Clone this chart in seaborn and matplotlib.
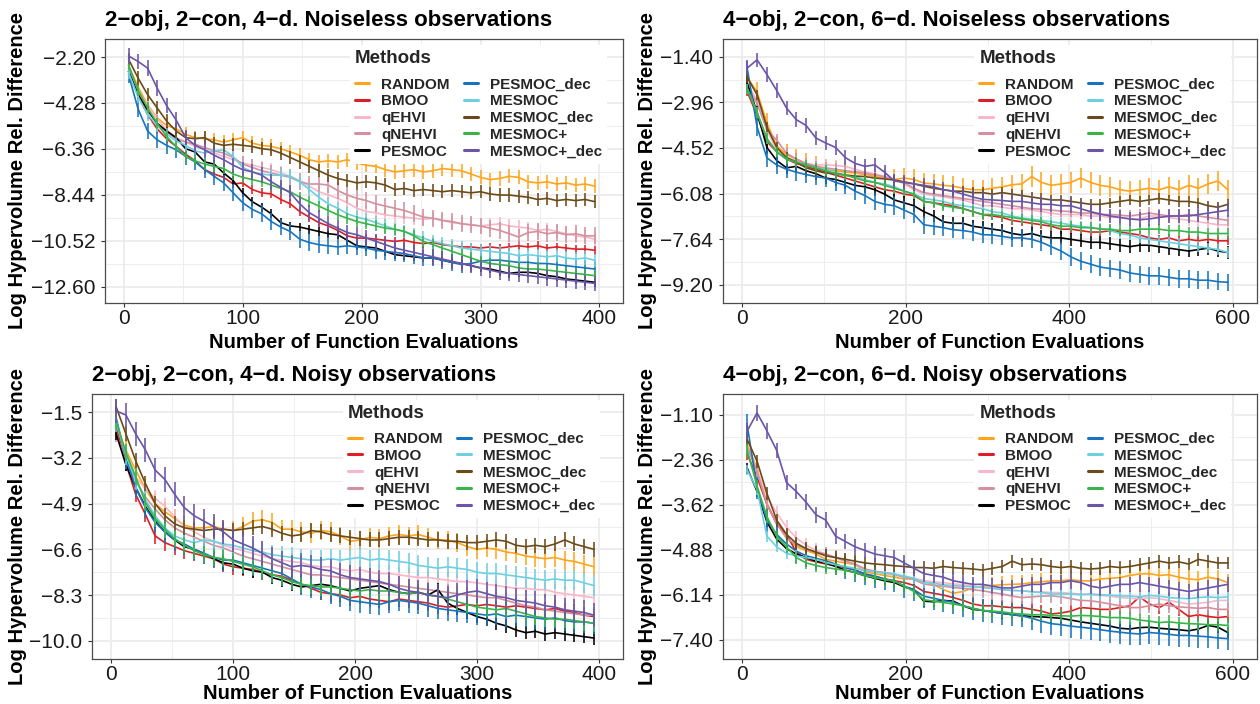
import numpy as np
import pandas as pd
import matplotlib
matplotlib.use("Agg")
import matplotlib.pyplot as plt
import seaborn as sns
from matplotlib.lines import Line2D
from matplotlib.ticker import FixedLocator, FuncFormatter

sns.set_theme(style="white")
plt.rcParams['font.family'] = ['Liberation Sans', 'DejaVu Sans']
plt.rcParams['axes.unicode_minus'] = True

METHODS = ["RANDOM", "BMOO", "qEHVI", "qNEHVI", "PESMOC",
           "PESMOC_dec", "MESMOC", "MESMOC_dec", "MESMOC+", "MESMOC+_dec"]
COLORS = ["#FFA51C", "#DC1F26", "#F8B7C8", "#D3909E", "#000000",
          "#1874BE", "#6ECFE0", "#6B4A18", "#3AB44A", "#6A55A6"]

# evaluation grids (4-d problems: every 8 evals from 4; 6-d problems: every 12 evals from 6)
x_4d = np.arange(4, 400, 8)
x_6d = np.arange(6, 600, 12)

# ---------------- 2-obj, 2-con, 4-d, noiseless ----------------
a_random = [-2.60, -3.55, -4.36, -4.95, -5.30, -5.45, -5.70, -5.85, -5.90, -5.95,
            -6.05, -5.95, -5.85, -6.10, -6.20, -6.25, -6.35, -6.50, -6.65, -6.85,
            -6.95, -6.90, -6.95, -6.85, -7.00, -7.10, -7.15, -7.30, -7.40, -7.35,
            -7.30, -7.40, -7.35, -7.25, -7.30, -7.35, -7.50, -7.65, -7.75, -7.70,
            -7.60, -7.65, -7.85, -7.90, -7.85, -7.95, -7.90, -8.00, -7.95, -8.05]
a_bmoo = [-2.85, -3.95, -4.80, -5.45, -5.90, -6.25, -6.60, -6.90, -7.30, -7.50,
          -7.65, -7.95, -7.90, -8.20, -8.35, -8.40, -8.65, -8.85, -9.20, -9.45,
          -9.70, -9.85, -10.05, -10.30, -10.40, -10.40, -10.45, -10.50, -10.55, -10.50,
          -10.60, -10.65, -10.60, -10.70, -10.75, -10.80, -10.80, -10.85, -10.80, -10.85,
          -10.80, -10.75, -10.80, -10.75, -10.85, -10.80, -10.85, -10.90, -10.90, -10.95]
a_qehvi = [-2.70, -3.70, -4.40, -5.00, -5.50, -5.85, -6.05, -6.25, -6.40, -6.55,
           -6.70, -6.85, -7.00, -7.10, -7.20, -7.30, -7.45, -7.60, -7.80, -8.05,
           -8.30, -8.45, -8.60, -8.80, -9.05, -9.20, -9.25, -9.35, -9.40, -9.45,
           -9.50, -9.55, -9.50, -9.60, -9.70, -9.75, -9.80, -9.85, -9.80, -9.75,
           -9.85, -9.90, -9.95, -10.05, -10.00, -10.10, -10.20, -10.30, -10.35, -10.45]
a_qnehvi = [-2.75, -3.80, -4.60, -5.20, -5.60, -5.90, -6.05, -6.15, -6.30, -6.45,
            -6.55, -6.75, -7.05, -7.20, -7.35, -7.45, -7.55, -7.65, -7.85, -7.95,
            -7.95, -8.00, -8.25, -8.45, -8.60, -8.70, -8.85, -8.95, -9.05, -9.15,
            -9.30, -9.45, -9.50, -9.60, -9.65, -9.75, -9.80, -9.85, -9.95, -10.05,
            -10.20, -10.35, -10.15, -10.10, -10.20, -10.15, -10.25, -10.20, -10.30, -10.30]
a_pesmoc = [-2.85, -3.90, -4.60, -5.20, -5.55, -5.85, -6.35, -6.50, -6.95, -7.05,
            -7.45, -7.80, -8.35, -8.75, -9.00, -9.30, -9.70, -9.85, -9.90, -10.00,
            -10.10, -10.20, -10.25, -10.50, -10.75, -10.80, -10.85, -11.00, -11.15, -11.20,
            -11.25, -11.30, -11.30, -11.40, -11.50, -11.55, -11.65, -11.75, -11.80, -11.90,
            -12.00, -11.95, -11.95, -12.00, -12.10, -12.15, -12.25, -12.30, -12.35, -12.40]
a_pesmoc_dec = [-3.00, -4.55, -5.55, -5.95, -6.20, -6.40, -6.70, -6.95, -7.30, -7.60,
                -7.90, -8.35, -8.80, -9.10, -9.30, -9.65, -9.90, -10.10, -10.45, -10.60,
                -10.70, -10.75, -10.80, -10.75, -10.80, -10.85, -10.95, -11.00, -11.05, -11.10,
                -11.20, -11.30, -11.30, -11.40, -11.50, -11.60, -11.55, -11.45, -11.40, -11.40,
                -11.45, -11.50, -11.50, -11.55, -11.55, -11.60, -11.65, -11.70, -11.75, -11.80]
a_mesmoc = [-2.90, -4.00, -4.80, -5.30, -5.70, -6.00, -6.20, -6.45, -6.55, -6.45,
            -6.40, -6.70, -7.20, -7.40, -7.50, -7.55, -7.55, -7.60, -7.85, -8.20,
            -8.55, -8.85, -9.05, -9.30, -9.45, -9.55, -9.70, -9.85, -10.00, -10.10,
            -10.25, -10.40, -10.55, -10.65, -10.75, -10.85, -10.90, -10.95, -11.00, -11.05,
            -11.10, -11.20, -11.15, -11.20, -11.25, -11.20, -11.30, -11.35, -11.30, -11.40]
a_mesmoc_dec = [-2.30, -3.15, -3.90, -4.50, -5.10, -5.55, -5.85, -5.90, -5.85, -6.10,
                -6.20, -6.15, -6.20, -6.25, -6.35, -6.40, -6.55, -6.75, -6.95, -7.15,
                -7.35, -7.55, -7.70, -7.80, -7.90, -7.85, -7.90, -8.00, -8.20, -8.15,
                -8.25, -8.20, -8.25, -8.30, -8.25, -8.30, -8.35, -8.30, -8.40, -8.45,
                -8.45, -8.50, -8.55, -8.65, -8.60, -8.70, -8.65, -8.70, -8.65, -8.75]
a_mesmocp = [-2.55, -3.70, -4.50, -5.20, -5.80, -6.25, -6.70, -6.90, -7.05, -7.15,
             -7.25, -7.50, -7.65, -7.75, -7.85, -8.00, -8.15, -8.30, -8.55, -8.75,
             -8.95, -9.15, -9.35, -9.50, -9.65, -9.75, -9.85, -9.95, -10.00, -10.10,
             -10.30, -10.55, -10.70, -10.85, -11.00, -11.15, -11.30, -11.45, -11.55, -11.60,
             -11.65, -11.75, -11.80, -11.80, -11.85, -11.90, -11.95, -12.00, -12.05, -12.10]
a_mesmocp_dec = [-2.15, -2.40, -2.70, -3.60, -4.40, -5.05, -5.85, -6.20, -6.40, -6.65,
                 -6.85, -7.10, -7.30, -7.40, -7.55, -7.85, -8.10, -8.35, -8.85, -9.25,
                 -9.50, -9.75, -9.95, -10.15, -10.25, -10.40, -10.55, -10.70, -10.85, -10.95,
                 -11.05, -11.15, -11.25, -11.35, -11.45, -11.55, -11.65, -11.75, -11.85, -11.95,
                 -12.00, -12.05, -12.10, -12.15, -12.20, -12.25, -12.30, -12.35, -12.40, -12.45]
a_err = [0.32, 0.20, 0.30, 0.38, 0.20, 0.38, 0.30, 0.30, 0.25, 0.35]

# ---------------- 4-obj, 2-con, 6-d, noiseless ----------------
b_random = [-2.10, -2.60, -3.66, -4.45, -4.75, -4.90, -5.05, -5.15, -5.25, -5.30,
            -5.35, -5.38, -5.43, -5.50, -5.55, -5.60, -5.55, -5.60, -5.72, -5.75,
            -5.80, -5.83, -5.90, -5.95, -5.95, -5.90, -5.85, -5.78, -5.75, -5.50,
            -5.70, -5.80, -5.75, -5.70, -5.55, -5.70, -5.80, -5.85, -5.95, -6.00,
            -5.95, -5.90, -5.95, -5.85, -5.95, -5.80, -5.90, -5.75, -5.65, -5.95]
b_bmoo = [-2.60, -3.40, -4.30, -4.65, -4.90, -5.05, -5.15, -5.25, -5.35, -5.45,
          -5.55, -5.65, -5.75, -5.85, -5.95, -6.00, -6.10, -6.15, -6.35, -6.40,
          -6.45, -6.50, -6.60, -6.70, -6.80, -6.85, -6.90, -7.00, -7.05, -7.10,
          -7.15, -7.20, -7.30, -7.30, -7.35, -7.40, -7.40, -7.35, -7.40, -7.45,
          -7.50, -7.60, -7.65, -7.60, -7.70, -7.65, -7.70, -7.65, -7.70, -7.70]
b_qehvi = [-2.30, -2.90, -3.90, -4.60, -4.85, -4.95, -5.05, -5.10, -5.10, -5.12,
           -5.15, -5.25, -5.35, -5.40, -5.50, -5.60, -5.75, -5.95, -6.10, -6.15,
           -6.20, -6.25, -6.30, -6.40, -6.50, -6.50, -6.55, -6.60, -6.60, -6.65,
           -6.70, -6.75, -6.80, -6.80, -6.80, -6.85, -6.85, -6.90, -6.90, -6.95,
           -6.95, -6.85, -6.85, -6.90, -6.95, -7.00, -7.05, -7.10, -7.15, -7.15]
b_qnehvi = [-2.40, -3.00, -3.90, -4.25, -4.70, -4.90, -5.05, -5.15, -5.20, -5.25,
            -5.30, -5.33, -5.38, -5.45, -5.50, -5.60, -5.70, -5.90, -6.05, -6.10,
            -6.15, -6.20, -6.25, -6.30, -6.35, -6.40, -6.45, -6.50, -6.55, -6.60,
            -6.62, -6.65, -6.68, -6.70, -6.75, -6.75, -6.80, -6.80, -6.82, -6.85,
            -6.80, -6.75, -6.80, -6.85, -6.85, -6.80, -6.85, -6.90, -6.95, -7.00]
b_pesmoc = [-2.30, -3.30, -4.50, -4.95, -5.20, -5.15, -5.30, -5.40, -5.55, -5.60,
            -5.70, -5.80, -5.85, -5.95, -6.10, -6.30, -6.40, -6.50, -6.70, -6.85,
            -7.05, -7.10, -7.10, -7.20, -7.25, -7.30, -7.35, -7.45, -7.50, -7.45,
            -7.55, -7.60, -7.60, -7.65, -7.70, -7.75, -7.75, -7.80, -7.85, -7.90,
            -7.85, -7.85, -7.90, -7.95, -8.00, -8.05, -8.00, -7.95, -8.05, -8.10]
b_pesmoc_dec = [-1.80, -3.80, -4.86, -5.10, -5.25, -5.35, -5.43, -5.50, -5.55, -5.70,
                -5.80, -6.00, -6.15, -6.35, -6.45, -6.50, -6.65, -6.80, -7.15, -7.20,
                -7.25, -7.32, -7.35, -7.40, -7.49, -7.50, -7.55, -7.60, -7.60, -7.65,
                -7.75, -7.90, -8.05, -8.25, -8.40, -8.50, -8.60, -8.65, -8.70, -8.80,
                -8.85, -8.90, -8.90, -8.95, -9.00, -9.00, -9.05, -9.05, -9.10, -9.12]
b_mesmoc = [-2.50, -3.30, -4.20, -4.65, -4.90, -5.00, -5.10, -5.20, -5.25, -5.35,
            -5.45, -5.50, -5.60, -5.70, -5.75, -5.85, -6.00, -6.10, -6.25, -6.30,
            -6.35, -6.45, -6.50, -6.55, -6.60, -6.70, -6.75, -6.85, -6.92, -6.95,
            -7.00, -7.05, -7.10, -7.15, -7.20, -7.25, -7.28, -7.35, -7.45, -7.50,
            -7.60, -7.65, -7.70, -7.75, -7.80, -7.85, -7.90, -7.95, -8.00, -8.10]
b_mesmoc_dec = [-2.10, -2.70, -3.80, -4.50, -4.85, -5.00, -5.20, -5.30, -5.38, -5.40,
                -5.45, -5.48, -5.50, -5.55, -5.58, -5.62, -5.68, -5.75, -5.83, -5.90,
                -5.95, -6.00, -6.00, -6.05, -6.05, -6.10, -6.05, -6.10, -6.15, -6.20,
                -6.25, -6.30, -6.30, -6.35, -6.40, -6.45, -6.45, -6.40, -6.35, -6.30,
                -6.35, -6.30, -6.25, -6.30, -6.35, -6.35, -6.40, -6.50, -6.55, -6.45]
b_mesmocp = [-2.50, -3.30, -4.20, -4.65, -4.90, -5.00, -5.10, -5.20, -5.30, -5.40,
             -5.45, -5.55, -5.65, -5.70, -5.80, -5.90, -6.00, -6.10, -6.35, -6.40,
             -6.50, -6.55, -6.60, -6.70, -6.80, -6.80, -6.85, -6.90, -6.95, -7.00,
             -7.05, -7.15, -7.20, -7.20, -7.25, -7.25, -7.30, -7.30, -7.35, -7.35,
             -7.30, -7.30, -7.30, -7.35, -7.35, -7.40, -7.40, -7.45, -7.45, -7.45]
b_mesmocp_dec = [-1.78, -1.50, -2.00, -2.55, -3.15, -3.55, -3.75, -4.18, -4.35, -4.50,
                 -4.85, -5.05, -5.15, -5.10, -5.35, -5.65, -5.70, -5.75, -5.80, -5.85,
                 -5.95, -6.00, -6.10, -6.20, -6.28, -6.30, -6.32, -6.35, -6.35, -6.40,
                 -6.45, -6.45, -6.50, -6.50, -6.60, -6.70, -6.78, -6.85, -6.90, -6.95,
                 -6.98, -6.95, -6.90, -6.85, -6.85, -6.85, -6.80, -6.75, -6.70, -6.65]
b_err = [0.35, 0.15, 0.20, 0.20, 0.22, 0.30, 0.18, 0.18, 0.18, 0.25]

# ---------------- 2-obj, 2-con, 4-d, noisy ----------------
c_random = [-2.05, -2.90, -3.65, -4.35, -4.90, -5.20, -5.45, -5.70, -5.80, -5.80,
            -5.75, -5.85, -5.90, -5.75, -5.55, -5.50, -5.60, -5.85, -5.85, -5.95,
            -6.00, -5.90, -5.95, -6.10, -6.30, -6.25, -6.15, -6.20, -6.10, -6.05,
            -6.10, -6.05, -6.15, -6.25, -6.25, -6.35, -6.50, -6.60, -6.55, -6.60,
            -6.70, -6.75, -6.85, -6.90, -6.95, -6.90, -7.00, -7.05, -7.15, -7.25]
c_bmoo = [-2.05, -3.40, -4.55, -5.30, -6.10, -6.35, -6.50, -6.65, -6.75, -6.85,
          -6.95, -7.15, -7.25, -7.30, -7.35, -7.45, -7.55, -7.60, -7.75, -7.90,
          -8.05, -8.20, -8.25, -8.30, -8.40, -8.35, -8.45, -8.50, -8.55, -8.45,
          -8.50, -8.55, -8.60, -8.70, -8.75, -8.70, -8.65, -8.70, -8.65, -8.70,
          -8.75, -8.70, -8.75, -8.80, -8.85, -8.80, -8.90, -8.95, -9.05, -9.10]
c_qehvi = [-1.90, -3.00, -3.90, -4.35, -4.70, -5.00, -5.40, -5.75, -5.95, -6.15,
           -6.30, -6.45, -6.55, -6.65, -6.75, -6.85, -6.95, -7.00, -7.05, -7.10,
           -7.20, -7.25, -7.25, -7.35, -7.40, -7.35, -7.45, -7.50, -7.50, -7.55,
           -7.60, -7.65, -7.65, -7.70, -7.75, -7.80, -7.80, -7.85, -7.90, -7.95,
           -8.00, -8.05, -8.05, -8.10, -8.10, -8.20, -8.25, -8.30, -8.35, -8.40]
c_qnehvi = [-2.30, -3.30, -4.05, -4.65, -5.10, -5.50, -5.80, -6.00, -6.15, -6.30,
            -6.45, -6.55, -6.70, -6.85, -6.95, -7.05, -7.15, -7.25, -7.35, -7.45,
            -7.55, -7.55, -7.60, -7.65, -7.70, -7.75, -7.80, -7.85, -7.90, -7.95,
            -8.00, -8.05, -8.10, -8.15, -8.20, -8.25, -8.30, -8.35, -8.40, -8.40,
            -8.50, -8.60, -8.70, -8.75, -8.85, -8.90, -8.95, -9.00, -9.05, -9.05]
c_pesmoc = [-2.30, -3.45, -4.30, -5.00, -5.55, -5.95, -6.25, -6.50, -6.60, -6.75,
            -6.95, -7.10, -7.15, -7.30, -7.40, -7.45, -7.65, -7.75, -7.90, -8.00,
            -7.95, -7.90, -7.95, -8.05, -8.15, -8.05, -8.00, -7.95, -8.10, -8.20,
            -8.25, -8.20, -8.30, -8.10, -8.60, -8.80, -8.95, -9.10, -9.20, -9.35,
            -9.45, -9.60, -9.70, -9.65, -9.75, -9.70, -9.75, -9.80, -9.85, -9.90]
c_pesmoc_dec = [-1.70, -3.20, -4.30, -5.05, -5.60, -5.95, -6.25, -6.40, -6.60, -6.75,
                -6.90, -7.00, -7.00, -7.10, -7.20, -7.30, -7.40, -7.50, -7.70, -7.90,
                -8.00, -8.10, -8.25, -8.35, -8.50, -8.55, -8.60, -8.65, -8.55, -8.50,
                -8.55, -8.60, -8.70, -8.80, -8.85, -8.90, -8.95, -9.00, -9.05, -9.00,
                -9.10, -9.05, -9.10, -9.15, -9.20, -9.15, -9.25, -9.30, -9.30, -9.35]
c_mesmoc = [-1.85, -3.10, -4.00, -4.75, -5.35, -5.80, -6.10, -6.25, -6.35, -6.25,
            -6.30, -6.40, -6.45, -6.55, -6.65, -6.70, -6.80, -6.85, -6.90, -6.95,
            -7.00, -7.00, -6.95, -7.00, -6.95, -6.90, -7.00, -6.95, -7.00, -7.05,
            -7.10, -7.20, -7.25, -7.30, -7.25, -7.30, -7.35, -7.45, -7.50, -7.50,
            -7.55, -7.60, -7.65, -7.70, -7.75, -7.70, -7.75, -7.75, -7.85, -7.95]
c_mesmoc_dec = [-1.30, -2.30, -3.30, -4.15, -4.90, -5.35, -5.65, -5.80, -5.85, -5.90,
                -5.85, -5.85, -5.90, -5.85, -5.80, -5.75, -5.85, -6.00, -6.10, -6.05,
                -5.90, -5.95, -6.05, -6.10, -6.15, -6.20, -6.25, -6.25, -6.20, -6.15,
                -6.15, -6.20, -6.25, -6.25, -6.30, -6.30, -6.35, -6.35, -6.30, -6.25,
                -6.30, -6.45, -6.50, -6.45, -6.50, -6.40, -6.25, -6.40, -6.50, -6.60]
c_mesmocp = [-1.85, -3.00, -3.90, -4.85, -5.45, -5.85, -6.20, -6.45, -6.65, -6.80,
             -6.90, -6.95, -7.05, -7.15, -7.25, -7.40, -7.55, -7.65, -7.80, -7.90,
             -7.95, -8.00, -8.00, -8.05, -8.10, -8.15, -8.10, -8.15, -8.15, -8.20,
             -8.25, -8.20, -8.30, -8.35, -8.45, -8.55, -8.65, -8.75, -8.80, -8.85,
             -8.80, -8.90, -9.00, -9.10, -9.15, -9.20, -9.20, -9.25, -9.30, -9.35]
c_mesmocp_dec = [-1.45, -1.60, -2.30, -2.90, -3.65, -4.00, -4.55, -5.05, -5.35, -5.55,
                 -5.75, -5.95, -6.25, -6.40, -6.55, -6.75, -6.95, -7.10, -7.25, -7.20,
                 -7.25, -7.35, -7.40, -7.55, -7.65, -7.70, -7.75, -7.80, -7.90, -8.05,
                 -8.15, -8.20, -8.30, -8.35, -8.40, -8.30, -8.20, -8.15, -8.25, -8.35,
                 -8.40, -8.50, -8.55, -8.60, -8.70, -8.75, -8.85, -8.90, -8.95, -9.05]
c_err = [0.35, 0.30, 0.30, 0.30, 0.25, 0.40, 0.38, 0.28, 0.32, 0.45]

# ---------------- 4-obj, 2-con, 6-d, noisy ----------------
d_random = [-1.95, -2.60, -3.60, -4.15, -4.55, -4.80, -4.90, -5.00, -5.15, -5.20,
            -5.25, -5.30, -5.50, -5.55, -5.60, -5.65, -5.70, -5.70, -5.75, -5.85,
            -6.00, -6.10, -6.05, -5.95, -5.90, -5.88, -5.86, -5.85, -5.84, -5.80,
            -5.78, -5.75, -5.75, -5.72, -5.75, -5.75, -5.70, -5.68, -5.66, -5.60,
            -5.56, -5.55, -5.60, -5.58, -5.65, -5.70, -5.72, -5.65, -5.70, -5.80]
d_bmoo = [-2.20, -2.85, -3.60, -4.15, -4.45, -4.95, -5.15, -5.22, -5.28, -5.33,
          -5.38, -5.45, -5.56, -5.62, -5.70, -5.75, -5.80, -5.88, -6.05, -6.10,
          -6.15, -6.22, -6.30, -6.40, -6.45, -6.45, -6.48, -6.50, -6.50, -6.55,
          -6.60, -6.68, -6.65, -6.60, -6.50, -6.52, -6.55, -6.55, -6.50, -6.45,
          -6.20, -6.40, -6.50, -6.35, -6.55, -6.75, -6.70, -6.75, -6.78, -6.75]
d_qehvi = [-2.00, -2.65, -3.40, -3.85, -4.25, -4.55, -4.75, -4.90, -5.00, -5.10,
           -5.20, -5.30, -5.45, -5.50, -5.55, -5.60, -5.65, -5.68, -5.75, -5.78,
           -5.80, -5.84, -5.86, -5.90, -5.94, -5.96, -6.00, -6.02, -6.03, -6.05,
           -6.06, -6.08, -6.08, -6.10, -6.12, -6.14, -6.16, -6.18, -6.22, -6.24,
           -6.26, -6.22, -6.25, -6.30, -6.35, -6.40, -6.38, -6.35, -6.30, -6.30]
d_qnehvi = [-2.00, -2.70, -3.60, -4.15, -4.55, -4.75, -4.85, -4.95, -5.00, -5.10,
            -5.20, -5.28, -5.42, -5.48, -5.52, -5.56, -5.65, -5.72, -5.84, -5.88,
            -5.90, -5.94, -5.96, -6.00, -6.03, -6.08, -6.12, -6.18, -6.22, -6.20,
            -6.18, -6.17, -6.20, -6.25, -6.30, -6.31, -6.35, -6.40, -6.45, -6.50,
            -6.50, -6.45, -6.40, -6.45, -6.48, -6.50, -6.52, -6.50, -6.55, -6.55]
d_pesmoc = [-2.60, -3.25, -4.10, -4.58, -4.85, -5.00, -5.10, -5.20, -5.25, -5.35,
            -5.45, -5.52, -5.61, -5.68, -5.75, -5.80, -5.92, -6.00, -6.32, -6.34,
            -6.30, -6.32, -6.45, -6.55, -6.58, -6.62, -6.66, -6.70, -6.73, -6.75,
            -6.76, -6.78, -6.80, -6.85, -6.90, -6.94, -6.98, -7.02, -7.08, -7.10,
            -7.06, -7.05, -7.08, -7.10, -7.12, -7.15, -7.10, -7.00, -7.05, -7.20]
d_pesmoc_dec = [-1.40, -3.15, -4.05, -4.45, -4.72, -4.92, -5.05, -5.12, -5.19, -5.28,
                -5.38, -5.45, -5.56, -5.62, -5.70, -5.75, -5.90, -6.00, -6.18, -6.24,
                -6.30, -6.35, -6.45, -6.52, -6.58, -6.62, -6.66, -6.70, -6.73, -6.80,
                -6.88, -6.95, -6.98, -7.02, -7.05, -7.08, -7.12, -7.16, -7.19, -7.22,
                -7.24, -7.20, -7.22, -7.25, -7.28, -7.28, -7.30, -7.32, -7.35, -7.37]
d_mesmoc = [-2.65, -3.20, -4.50, -4.80, -4.98, -5.05, -5.10, -5.15, -5.24, -5.30,
            -5.35, -5.40, -5.47, -5.50, -5.53, -5.56, -5.62, -5.68, -5.80, -5.82,
            -5.86, -5.89, -5.90, -5.92, -5.94, -5.96, -6.00, -6.02, -6.03, -6.06,
            -6.08, -6.12, -6.12, -6.12, -6.14, -6.12, -6.14, -6.15, -6.17, -6.18,
            -6.20, -6.16, -6.18, -6.22, -6.24, -6.25, -6.22, -6.20, -6.22, -6.20]
d_mesmoc_dec = [-1.80, -2.40, -3.30, -4.05, -4.45, -4.70, -4.85, -4.95, -5.05, -5.10,
                -5.15, -5.20, -5.25, -5.28, -5.30, -5.33, -5.35, -5.38, -5.38, -5.40,
                -5.35, -5.38, -5.40, -5.42, -5.45, -5.40, -5.35, -5.20, -5.30, -5.28,
                -5.30, -5.35, -5.38, -5.35, -5.40, -5.42, -5.40, -5.35, -5.38, -5.35,
                -5.30, -5.25, -5.20, -5.25, -5.22, -5.28, -5.15, -5.20, -5.25, -5.25]
d_mesmocp = [-2.10, -3.10, -3.95, -4.50, -4.80, -5.10, -5.25, -5.32, -5.38, -5.42,
             -5.46, -5.52, -5.61, -5.66, -5.72, -5.76, -5.90, -6.05, -6.28, -6.32,
             -6.36, -6.40, -6.45, -6.52, -6.58, -6.60, -6.62, -6.66, -6.68, -6.70,
             -6.70, -6.72, -6.73, -6.74, -6.72, -6.73, -6.75, -6.78, -6.78, -6.80,
             -6.85, -6.88, -6.92, -6.90, -6.93, -6.95, -6.96, -6.98, -6.98, -7.00]
d_mesmocp_dec = [-1.55, -1.05, -1.55, -2.10, -3.00, -3.25, -3.55, -3.90, -4.05, -4.50,
                 -4.65, -4.80, -4.90, -5.00, -5.05, -5.10, -5.25, -5.40, -5.55, -5.60,
                 -5.65, -5.75, -5.80, -5.85, -5.85, -5.90, -5.95, -5.95, -5.90, -5.85,
                 -5.85, -5.80, -5.80, -5.75, -5.80, -5.90, -5.95, -5.90, -5.85, -5.85,
                 -5.80, -5.85, -5.90, -5.95, -6.00, -6.05, -6.00, -5.95, -5.90, -5.85]
d_err = [0.25, 0.18, 0.20, 0.20, 0.15, 0.32, 0.15, 0.18, 0.18, 0.22]

# tick labels
a_yticks = [-2.20, -4.28, -6.36, -8.44, -10.52, -12.60]
b_yticks = [-1.40, -2.96, -4.52, -6.08, -7.64, -9.20]
c_yticks = [-1.5, -3.2, -4.9, -6.6, -8.3, -10.0]
d_yticks = [-1.10, -2.36, -3.62, -4.88, -6.14, -7.40]
x4_ticks = [0, 100, 200, 300, 400]
x6_ticks = [0, 200, 400, 600]

titles = ["2\u2212obj, 2\u2212con, 4\u2212d. Noiseless observations",
          "4\u2212obj, 2\u2212con, 6\u2212d. Noiseless observations",
          "2\u2212obj, 2\u2212con, 4\u2212d. Noisy observations",
          "4\u2212obj, 2\u2212con, 6\u2212d. Noisy observations"]

W, H = 1260, 704
fig = plt.figure(figsize=(W / 100, H / 100), dpi=100)
fig.patch.set_facecolor("white")
PAL = dict(zip(METHODS, COLORS))
GRID = "#EBEBEB"


def draw_panel(rect, x, ys, errs, yticks, ylim, xticks, xlim, xminor, dec, title, anchor):
    l, t, r, b = rect
    ax = fig.add_axes([l / W, 1 - b / H, (r - l) / W, (b - t) / H])
    ax.set_facecolor("white")
    df = pd.DataFrame({
        "evals": np.tile(x, len(METHODS)),
        "value": np.concatenate([np.asarray(v, float) for v in ys]),
        "method": np.repeat(METHODS, len(x)),
    })
    for m, e in zip(METHODS, errs):
        sub = df[df["method"] == m]
        sns.lineplot(data=sub, x="evals", y="value", color=PAL[m], linewidth=1.2,
                     ax=ax, errorbar=None, legend=False, zorder=3)
        ax.errorbar(sub["evals"], sub["value"], yerr=e, fmt="none", ecolor=PAL[m],
                    elinewidth=1.15, capsize=0, zorder=3)
    ax.set_xlim(*xlim)
    ax.set_ylim(*ylim)
    ax.xaxis.set_major_locator(FixedLocator(xticks))
    ax.xaxis.set_minor_locator(FixedLocator(xminor))
    ax.yaxis.set_major_locator(FixedLocator(yticks))
    step = yticks[0] - yticks[1]
    ymin = [yt + step / 2 for yt in yticks] + [yticks[-1] - step / 2]
    ax.yaxis.set_minor_locator(FixedLocator(ymin))
    ax.yaxis.set_major_formatter(FuncFormatter(lambda v, p: f"{v:.{dec}f}".replace("-", "\u2212")))
    ax.grid(which="major", color=GRID, linewidth=1.25, zorder=0)
    ax.grid(which="minor", color=GRID, linewidth=0.6, zorder=0)
    ax.set_axisbelow(True)
    ax.tick_params(which="major", labelsize=15, length=3, width=0.8, color="#333333",
                   labelcolor="#1a1a1a", left=True, bottom=True)
    ax.tick_params(axis="x", which="major", pad=1.0)
    ax.tick_params(axis="y", which="major", pad=4.0)
    ax.tick_params(which="minor", length=0)
    for s in ax.spines.values():
        s.set_color("#4d4d4d")
        s.set_linewidth(0.9)
    ax.set_xlabel("")
    ax.set_ylabel("")
    handles = [Line2D([0], [0], color=PAL[m], linewidth=2.2) for m in METHODS]
    leg = ax.legend(handles, METHODS, ncol=2, title="Methods", loc="upper left",
                    bbox_to_anchor=anchor, frameon=True, facecolor="white", edgecolor="none",
                    framealpha=1, fancybox=False, borderpad=0.33, handlelength=0.92,
                    handletextpad=0.79, columnspacing=0.92, labelspacing=0.18,
                    borderaxespad=0, alignment="left",
                    prop={"weight": "bold", "size": 11},
                    title_fontproperties={"weight": "bold", "size": 13.5})
    leg._legend_box.sep = 7.5
    leg.set_zorder(6)
    fig.text(l / W, 1 - (t - 12.5) / H, title, ha="left", va="baseline",
             fontsize=16, fontweight="bold", color="black")
    return ax


panels = [
    ((105, 38.5, 623, 303), x_4d,
     [a_random, a_bmoo, a_qehvi, a_qnehvi, a_pesmoc, a_pesmoc_dec, a_mesmoc, a_mesmoc_dec, a_mesmocp, a_mesmocp_dec],
     a_err, a_yticks, (-13.34, -1.36), x4_ticks, (-15.8, 419.8), [50, 150, 250, 350], 2, titles[0], (0.473, 0.975)),
    ((723, 38.5, 1257, 303), x_6d,
     [b_random, b_bmoo, b_qehvi, b_qnehvi, b_pesmoc, b_pesmoc_dec, b_mesmoc, b_mesmoc_dec, b_mesmocp, b_mesmocp_dec],
     b_err, b_yticks, (-9.83, -0.77), x6_ticks, (-23.7, 629.7), [100, 300, 500], 2, titles[1], (0.4706, 0.975)),
    ((92, 394, 623, 659), x_4d,
     [c_random, c_bmoo, c_qehvi, c_qnehvi, c_pesmoc, c_pesmoc_dec, c_mesmoc, c_mesmoc_dec, c_mesmocp, c_mesmocp_dec],
     c_err, c_yticks, (-10.68, -0.82), x4_ticks, (-15.8, 419.8), [50, 150, 250, 350], 1, titles[2], (0.4727, 0.979)),
    ((723, 394, 1257, 659), x_6d,
     [d_random, d_bmoo, d_qehvi, d_qnehvi, d_pesmoc, d_pesmoc_dec, d_mesmoc, d_mesmoc_dec, d_mesmocp, d_mesmocp_dec],
     d_err, d_yticks, (-7.94, -0.52), x6_ticks, (-23.7, 629.7), [100, 300, 500], 2, titles[3], (0.4706, 0.979)),
]

for p in panels:
    draw_panel(*p)

# axis titles
for cx, base in [((105 + 623) / 2, 348), ((723 + 1257) / 2, 348), ((92 + 623) / 2, 699.3), ((723 + 1257) / 2, 699.3)]:
    fig.text(cx / W, 1 - base / H, "Number of Function Evaluations", ha="center", va="baseline",
             fontsize=14.5, fontweight="bold", color="black")
for xx, cy in [(18, (38.5 + 303) / 2), (648, (38.5 + 303) / 2), (18, (394 + 659) / 2), (648, (394 + 659) / 2)]:
    fig.text(xx / W, 1 - cy / H, "Log Hypervolume Rel. Difference", ha="center", va="center",
             rotation=90, fontsize=14.5, fontweight="bold", color="black")

fig.savefig("out.png", dpi=100, facecolor="white")
